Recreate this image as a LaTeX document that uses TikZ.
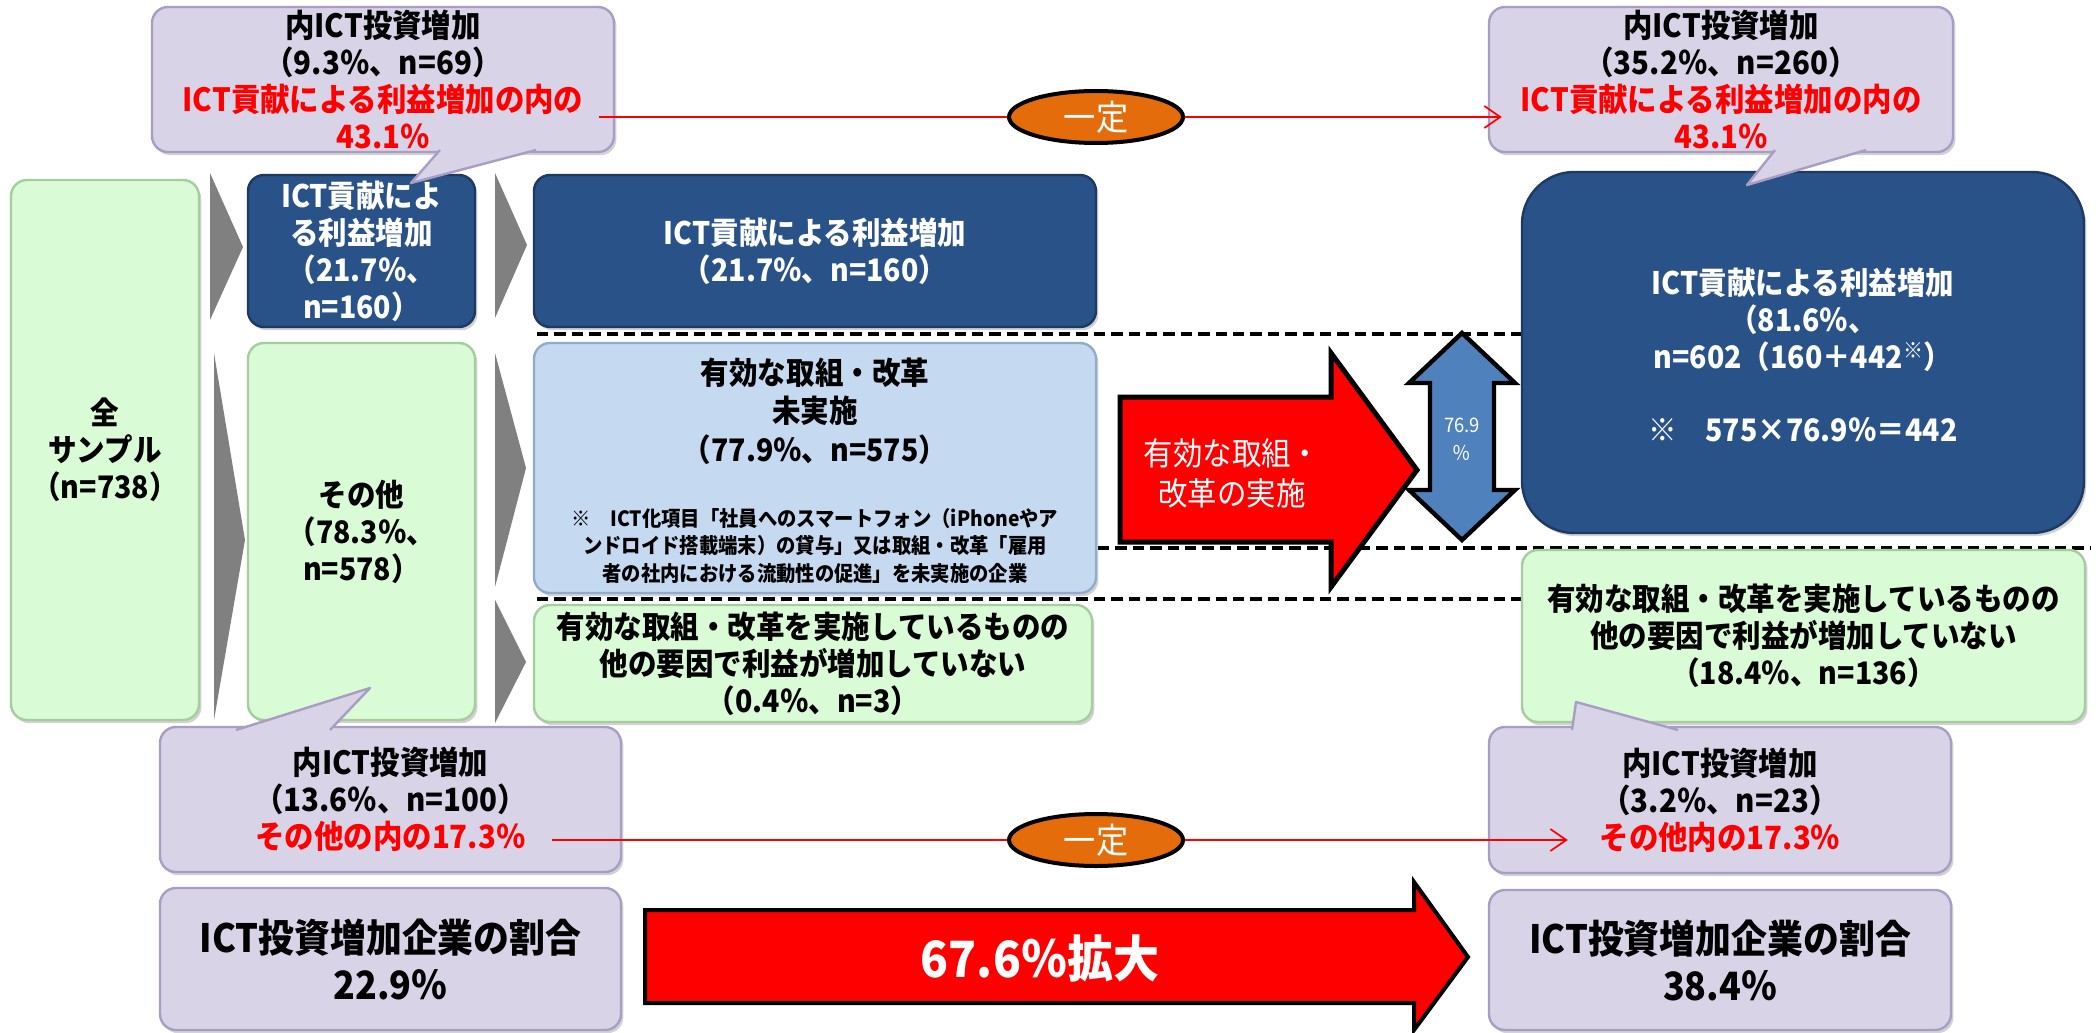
\documentclass[tikz,border=0pt]{standalone}
\usepackage{fontspec}
\setmainfont{Noto Sans CJK JP}[FakeStretch=0.92]
\usetikzlibrary{shadows,arrows.meta,shapes.geometric}
\definecolor{lav}{RGB}{217,211,232}
\definecolor{laved}{RGB}{168,158,196}
\definecolor{navy}{RGB}{41,82,136}
\definecolor{navyed}{RGB}{28,58,98}
\definecolor{grn}{RGB}{217,251,213}
\definecolor{grned}{RGB}{165,205,160}
\definecolor{lblue}{RGB}{197,217,241}
\definecolor{lblueed}{RGB}{145,170,205}
\definecolor{orng}{RGB}{228,108,10}
\definecolor{dblue}{RGB}{79,129,189}
\definecolor{trigray}{RGB}{128,128,128}
\definecolor{pureRed}{RGB}{255,0,0}
% #1 style, #2 name, #3 x1, #4 y1, #5 x2, #6 y2, #7 text
\newcommand{\mybox}[7]{\node[#1, minimum width={(#5-#3)*0.5pt}, minimum height={(#6-#4)*0.5pt}] (#2) at ({(#3+#5)/2},{(#4+#6)/2}) {#7};}
% callout pointer: #1 x1, #2 x2, #3 base y, #4 tip x, #5 tip y, #6 inset
\newcommand{\callptr}[6]{%
  \fill[lav] ({#1},{#3}) -- ({#4},{#5}) -- ({#2},{#3}) -- ({#2},{#3+(#6)}) -- ({#1},{#3+(#6)}) -- cycle;
  \draw[laved, line width=1.2pt, line join=round] ({#1},{#3}) -- ({#4},{#5}) -- ({#2},{#3});}
\tikzset{
  shd/.style={drop shadow={shadow xshift=1.2pt,shadow yshift=-1.6pt,opacity=0.35}},
  basebox/.style={inner sep=0pt, align=center, rounded corners=8pt, line width=1.2pt, shd,
    font=\fontsize{15.5}{18.5}\selectfont\bfseries},
  lavbox/.style={basebox, fill=lav, draw=laved, font=\fontsize{16}{18.5}\selectfont\bfseries},
  navybox/.style={basebox, fill=navy, draw=navyed, text=white},
  grnbox/.style={basebox, fill=grn, draw=grned},
  lbbox/.style={basebox, fill=lblue, draw=lblueed},
  bigbox/.style={lavbox, font=\fontsize{19.5}{23.5}\selectfont\bfseries},
  tri/.style={fill=trigray},
  dashln/.style={line width=2pt, dash pattern=on 5.7pt off 3pt},
  redln/.style={draw=pureRed, line width=0.85pt},
  oval/.style={ellipse, fill=orng, draw=black, line width=2pt, minimum width=87pt,
    minimum height=26pt, inner sep=0pt, text=white, font=\fontsize{17.5}{20}\selectfont},
  fatarrow/.style={fill=pureRed, draw=black, line width=2.5pt, line join=miter},
  lbl/.style={inner sep=0pt, align=center},
}
\begin{document}
\begin{tikzpicture}[x=0.5pt,y=-0.5pt]
\fill[white] (0,0) rectangle (2096,1032);
\useasboundingbox (0,0) rectangle (2096,1032);

% dashed separators
\draw[dashln] (537,334) -- (1524,334);
\draw[dashln] (1098,548) -- (2090,548);
\draw[dashln] (537,599) -- (1524,599);

% gray triangles
\fill[tri] (210,173) -- (243,247) -- (210,320) -- cycle;
\fill[tri] (214,353) -- (245,540) -- (214,720) -- cycle;
\fill[tri] (495,173) -- (527,245) -- (495,318) -- cycle;
\fill[tri] (495,353) -- (526,468) -- (495,587) -- cycle;
\fill[tri] (495,600) -- (526,662) -- (495,723) -- cycle;

% column 1
\mybox{grnbox}{all}{11}{180}{199}{720}{全\\サンプル\\（n=738）}
% column 2
\mybox{navybox}{ict2}{248}{175}{475}{327}{ICT貢献によ\\る利益増加\\（21.7％、\\n=160）}
\mybox{grnbox}{oth2}{248}{343}{475}{720}{その他\\（78.3％、\\n=578）}
% column 3
\mybox{navybox}{ict3}{534}{175}{1096}{327}{ICT貢献による利益増加\\（21.7％、n=160）}
\mybox{lbbox}{non3}{534}{343}{1096}{593}{}
\node[lbl, font=\fontsize{15.5}{19.25}\selectfont\bfseries] (non3t) at (815,411)
  {有効な取組・改革\\未実施\\（77.9％、n=575）};
\node[lbl, font=\fontsize{10.5}{13.75}\selectfont\bfseries] (non3n) at (815,546)
  {※　ICT化項目「社員へのスマートフォン（iPhoneやア\\ンドロイド搭載端末）の貸与」又は取組・改革「雇用\\者の社内における流動性の促進」を未実施の企業};
\mybox{grnbox}{oth3}{534}{605}{1092}{722}{有効な取組・改革を実施しているものの\\他の要因で利益が増加していない\\（0.4％、n=3）}

% middle red arrow
\draw[fatarrow] (1120,397) -- (1331,397) -- (1331,353) -- (1417,470) -- (1331,587) -- (1331,542) -- (1120,542) -- cycle;
\node[lbl, text=white, font=\fontsize{16}{20}\selectfont] (act) at (1232,473) {有効な取組・\\改革の実施};

% double arrow
\draw[fill=dblue, draw=black, line width=2.2pt, line join=miter]
  (1462,333) -- (1515,383) -- (1494,383) -- (1494,490) -- (1515,490) -- (1462,540)
  -- (1409,490) -- (1430,490) -- (1430,383) -- (1409,383) -- cycle;
\node[lbl, text=white, font=\fontsize{10}{14}\selectfont] (pct) at (1462,439) {76.9\\％};

% right column
\mybox{navybox, rounded corners=26pt}{ict4}{1522}{172}{2084}{533}{}
\node[lbl, text=white, font=\fontsize{15.5}{18.5}\selectfont\bfseries] (ict4t) at (1803,320)
  {ICT貢献による利益増加\\（81.6％、\\n=602（160＋442\textsuperscript{※}）};
\node[lbl, text=white, font=\fontsize{15.5}{18.5}\selectfont\bfseries] (ict4n) at (1803,430)
  {※　575×76.9％＝442};
\mybox{grnbox}{oth4}{1522}{550}{2085}{722}{有効な取組・改革を実施しているものの\\他の要因で利益が増加していない\\（18.4％、n=136）}

% callouts
\mybox{lavbox}{cTL}{152}{7}{614}{152}{内ICT投資増加\\（9.3％、n=69）\\\textcolor{red}{ICT貢献による利益増加の内の}\\\textcolor{red}{43.1％}}
\callptr{440}{536}{150}{411}{183}{-8}
\mybox{lavbox}{cTR}{1489}{7}{1953}{152}{内ICT投資増加\\（35.2％、n=260）\\\textcolor{red}{ICT貢献による利益増加の内の}\\\textcolor{red}{43.1％}}
\callptr{1775}{1866}{150}{1747}{185}{-8}
\mybox{lavbox}{cBL}{160}{727}{621}{872}{内ICT投資増加\\（13.6％、n=100）\\\textcolor{red}{その他の内の17.3％}}
\callptr{236}{330}{730}{370}{688}{8}
\mybox{lavbox}{cBR}{1489}{727}{1951}{873}{内ICT投資増加\\（3.2％、n=23）\\\textcolor{red}{その他内の17.3％}}
\callptr{1572}{1678}{730}{1576}{702}{8}

% constant ovals and red connectors
\node[oval] (e1) at (1096,117) {一定};
\draw[redln] ([xshift=-8pt]cTL.east |- e1.center) -- (e1.west |- e1.center);
\draw[redln, -{Straight Barb[length=8pt,width=11pt]}] (e1.east |- e1.center) -- ([xshift=7pt]cTR.west |- e1.center);
\node[oval] (e2) at (1096,840) {一定};
\draw[redln] ([xshift=-35pt]cBL.east |- e2.center) -- (e2.west |- e2.center);
\draw[redln, -{Straight Barb[length=8pt,width=11pt]}] (e2.east |- e2.center) -- ([xshift=40pt]cBR.west |- e2.center);

% bottom row
\mybox{bigbox}{rateL}{160}{888}{621}{1030}{ICT投資増加企業の割合\\22.9％}
\mybox{bigbox}{rateR}{1489}{890}{1951}{1030}{ICT投資増加企業の割合\\38.4％}
\draw[fatarrow, line width=2pt] (645,910) -- (1414,910) -- (1414,882) -- (1468,957) -- (1414,1030) -- (1414,1003) -- (645,1003) -- cycle;
\node[lbl, text=white, font=\fontsize{25}{28}\selectfont\bfseries] (exp) at (1040,958) {67.6％拡大};
\end{tikzpicture}
\end{document}
